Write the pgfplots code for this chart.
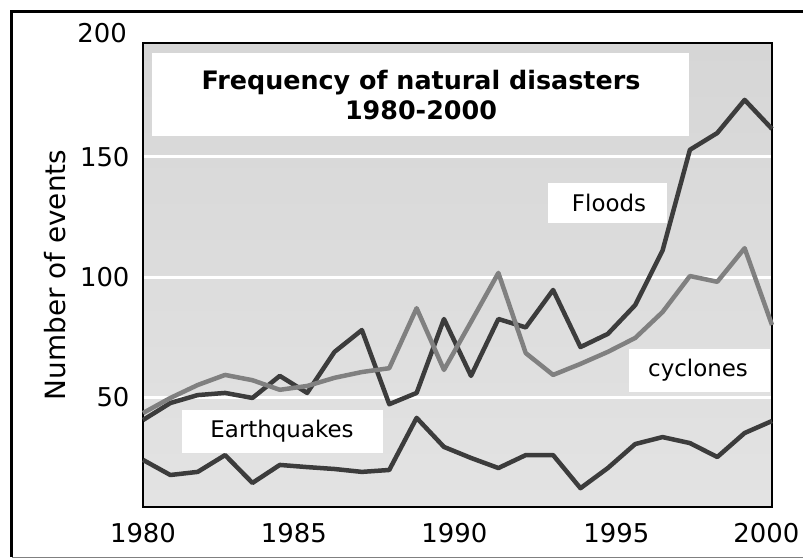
\documentclass[border=0pt]{standalone}
\usepackage{fontspec}
\setmainfont{DejaVu Sans}
\usepackage{pgfplots}
\pgfplotsset{compat=1.18}

\definecolor{darkline}{HTML}{3C3C3C}
\definecolor{lightline}{HTML}{808080}
\definecolor{bgtop}{HTML}{D6D6D6}
\definecolor{bgbot}{HTML}{E3E3E3}

\begin{document}
\begin{tikzpicture}
\path[use as bounding box] (-143bp,-52bp) rectangle (660bp,507bp);
% outer frame
\draw[line width=3bp, black] (-131bp,-50bp) -- (-131bp,495bp) -- (662bp,495bp);
\draw[line width=1bp, gray] (-131bp,-50bp) -- (662bp,-50bp);

\begin{axis}[
    at={(0,0)}, anchor=south west,
    scale only axis,
    width=629bp, height=464bp,
    xmin=1980, xmax=2000,
    ymin=4.17, ymax=197.5,
    xtick={1980,1984.8,1989.9,1995.05,1999.82},
    xticklabels={1980,1985,1990,1995,2000},
    ytick={50,100,150},
    major tick length=0pt,
    ymajorgrids,
    grid style={white, line width=3bp},
    axis background/.style={top color=bgtop, bottom color=bgbot},
    axis line style={black, line width=2bp},
    tick label style={font=\fontsize{26}{26}\selectfont},
    /pgf/number format/assume math mode=true,
    xticklabel style={yshift=-13bp},
    yticklabel style={xshift=-10bp},
    ylabel={Number of events},
    ylabel style={font=\fontsize{28}{28}\selectfont, at={(axis description cs:-0.14,0.5)}, anchor=center},
    clip=false,
]
\addplot[darkline, line width=4.5bp, line join=round] coordinates {
(1980,40.4) (1980.87,47.5) (1981.74,50.8) (1982.61,51.7) (1983.48,49.6) (1984.35,58.8)
(1985.22,51.7) (1986.09,68.8) (1986.96,77.9) (1987.83,47) (1988.70,51.7) (1989.57,82.5)
(1990.43,58.8) (1991.30,82.5) (1992.17,79) (1993.04,94.6) (1993.91,70.8) (1994.78,76.3)
(1995.65,88.3) (1996.52,111) (1997.39,153) (1998.26,160) (1999.13,173.8) (2000,161.7)};
\addplot[lightline, line width=4.5bp, line join=round] coordinates {
(1980,43.3) (1980.87,49.6) (1981.74,55) (1982.61,59.2) (1983.48,57) (1984.35,53)
(1985.22,54.6) (1986.09,58) (1986.96,60.4) (1987.83,62) (1988.70,87) (1989.57,61.3)
(1990.43,81.3) (1991.30,101.7) (1992.17,68.3) (1993.04,59.2) (1993.91,63.8) (1994.78,68.8)
(1995.65,74.6) (1996.52,85.4) (1997.39,100.4) (1998.26,98) (1999.13,112) (2000,80)};
\addplot[darkline, line width=4.5bp, line join=round] coordinates {
(1980,23.8) (1980.87,17.5) (1981.74,18.8) (1982.61,25.8) (1983.48,14.2) (1984.35,21.7)
(1985.22,20.8) (1986.09,20) (1986.96,18.8) (1987.83,19.6) (1988.70,41.3) (1989.57,29.2)
(1990.43,24.6) (1991.30,20.4) (1992.17,25.8) (1993.04,25.8) (1993.91,12) (1994.78,20.4)
(1995.65,30.4) (1996.52,33.3) (1997.39,30.8) (1998.26,25) (1999.13,35) (2000,40)};
\end{axis}

% "200" tick label above the plot box
\node[anchor=east, font=\fontsize{26}{26}\selectfont, inner sep=0pt] at (-16bp,474bp) {200};

% title and series labels
\fill[white] (9bp,371bp) rectangle (546bp,454bp);
\node[font=\fontsize{25.5}{30}\selectfont\bfseries, align=center] at (278bp,412bp)
  {Frequency of natural disasters\\1980-2000};
\fill[white] (405bp,284bp) rectangle (524bp,324bp);
\node[font=\fontsize{23}{23}\selectfont] at (466bp,304bp) {Floods};
\fill[white] (486bp,115bp) rectangle (627bp,158bp);
\node[font=\fontsize{23}{23}\selectfont] at (555bp,137bp) {cyclones};
\fill[white] (39bp,54bp) rectangle (240bp,97bp);
\node[font=\fontsize{23}{23}\selectfont] at (139bp,76bp) {Earthquakes};
\end{tikzpicture}
\end{document}
